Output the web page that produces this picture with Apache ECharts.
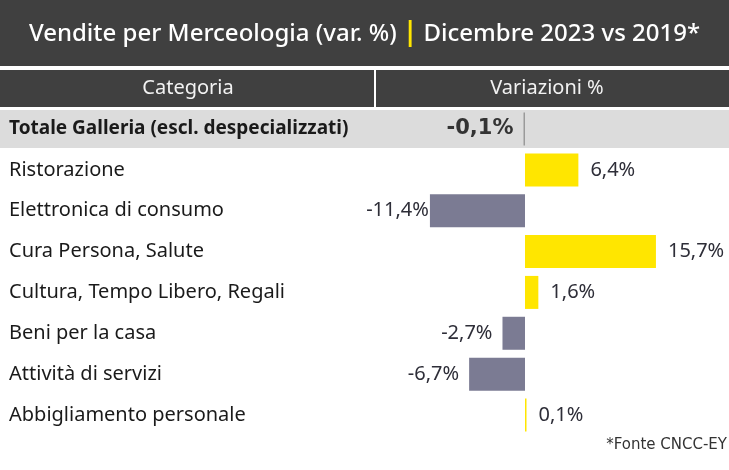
<!DOCTYPE html>
<html>
<head>
<meta charset="utf-8">
<script src="https://cdn.jsdelivr.net/npm/echarts@6/dist/echarts.min.js"></script>
<style>
html,body{margin:0;padding:0;background:#fff;}
#chart{width:729px;height:470px;}
</style>
</head>
<body>
<div id="chart"></div>
<script>
var titleLeft = 'Vendite per Merceologia (var. %)';
var titleRight = 'Dicembre 2023 vs 2019*';
var headers = ['Categoria', 'Variazioni %'];
var categories = ['Totale Galleria (escl. despecializzati)', 'Ristorazione', 'Elettronica di consumo', 'Cura Persona, Salute', 'Cultura, Tempo Libero, Regali', 'Beni per la casa', 'Attività di servizi', 'Abbigliamento personale'];
var values = [-0.1, 6.4, -11.4, 15.7, 1.6, -2.7, -6.7, 0.1];
var source = '*Fonte CNCC-EY';

var YELLOW = '#FFE600', GREY = '#7B7B93', DARK = '#404040', TXT = '#2E2E38';
var FONT = 'Noto Sans';
var gridLeft = 358.2, gridRight = 37.2;

function fmt(v){ return v.toFixed(1).replace('.', ',') + '%'; }

var data = values.map(function(v, i){
  var neg = v < 0;
  var item = {
    value: v,
    itemStyle: { color: i === 0 ? '#9a9a9a' : (neg ? GREY : YELLOW) },
    label: {
      show: true,
      position: neg ? 'left' : 'right',
      distance: (i === 2) ? 1 : (neg ? 10 : 12),
      formatter: function(p){ return fmt(p.value); },
      color: TXT,
      fontFamily: FONT,
      fontSize: 20,
      fontWeight: 'normal'
    }
  };
  if (i === 0) {
    item.label.fontFamily = 'DejaVu Sans';
    item.label.fontWeight = 'bold';
    item.label.fontSize = 21;
    item.label.color = '#333';
  }
  return item;
});

var chart = echarts.init(document.getElementById('chart'), null, {renderer: 'canvas'});
chart.setOption({
  backgroundColor: '#fff',
  animation: false,
  graphic: [
    { type: 'rect', shape: {x: 0, y: 0, width: 729, height: 66}, style: {fill: DARK}, z: -10 },
    { type: 'rect', shape: {x: 0, y: 70, width: 729, height: 37}, style: {fill: DARK}, z: -10 },
    { type: 'rect', shape: {x: 374, y: 70, width: 2, height: 37}, style: {fill: '#fff'}, z: -9 },
    { type: 'rect', shape: {x: 0, y: 110, width: 729, height: 38}, style: {fill: '#DCDCDC'}, z: -10 },
    { type: 'text', x: 364.5, y: 34, style: {
        text: '{a|' + titleLeft + ' }{y||}{a| ' + titleRight + '}',
        align: 'center', verticalAlign: 'middle',
        rich: {
          a: {fill: '#fff', fontFamily: FONT, fontSize: 24, fontWeight: 500},
          y: {fill: YELLOW, fontFamily: FONT, fontSize: 26, fontWeight: 'bold'}
        }
      } },
    { type: 'text', x: 188, y: 88, style: {text: headers[0], fill: '#f2f2f2', fontFamily: FONT, fontSize: 20, align: 'center', verticalAlign: 'middle'} },
    { type: 'text', x: 547, y: 88, style: {text: headers[1], fill: '#f2f2f2', fontFamily: FONT, fontSize: 20, align: 'center', verticalAlign: 'middle'} },
    { type: 'text', x: 727, y: 445, style: {text: source, fill: '#333', fontFamily: 'DejaVu Sans', fontSize: 15, align: 'right', verticalAlign: 'middle'} }
  ],
  grid: { left: gridLeft, right: gridRight, top: 108.6, bottom: 34.6, containLabel: false },
  xAxis: { type: 'value', min: -20, max: 20, show: false },
  yAxis: {
    type: 'category', inverse: true, data: categories,
    axisLine: {show: false}, axisTick: {show: false}, splitLine: {show: false},
    axisLabel: {
      align: 'left', margin: gridLeft - 9,
      formatter: function(v, i){ return i === 0 ? '{b|' + v + '}' : '{n|' + v + '}'; },
      rich: {
        b: {color: '#1a1a1a', fontFamily: FONT, fontSize: 19, fontWeight: 'bold'},
        n: {color: '#1a1a1a', fontFamily: FONT, fontSize: 20}
      }
    }
  },
  series: [{
    type: 'bar', data: data, barWidth: 33, barMinHeight: 1.5
  }]
});
</script>
</body>
</html>
